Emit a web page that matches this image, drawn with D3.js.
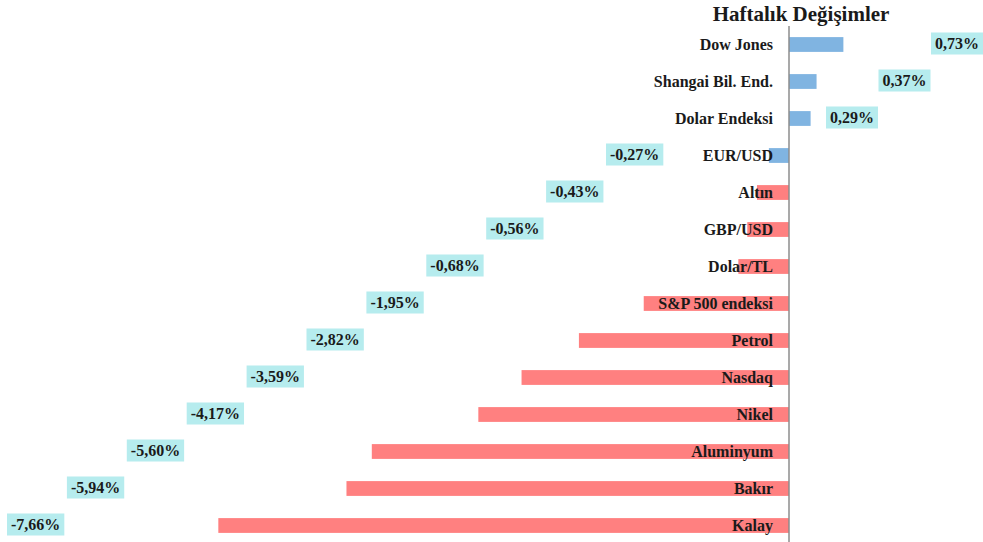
<!DOCTYPE html>
<html>
<head>
<meta charset="utf-8">
<script src="https://cdn.jsdelivr.net/npm/d3@7"></script>
<style>
  body { margin: 0; background: #fff; }
  svg { display: block; font-family: "Liberation Serif", "Times New Roman", serif; }
</style>
</head>
<body>
<div id="chart"></div>
<script>
var categories = ["Dow Jones", "Shangai Bil. End.", "Dolar Endeksi", "EUR/USD", "Altın", "GBP/USD",
  "Dolar/TL", "S&P 500 endeksi", "Petrol", "Nasdaq", "Nikel", "Aluminyum", "Bakır", "Kalay"];
var values = [0.73, 0.37, 0.29, -0.27, -0.43, -0.56, -0.68, -1.95, -2.82, -3.59, -4.17, -5.60, -5.94, -7.66];
var title = "Haftalık Değişimler";

var width = 983, height = 542;

var svg = d3.select("#chart").append("svg")
  .attr("width", width)
  .attr("height", height);

var x = d3.scaleLinear()
  .domain([-8, 1])
  .range([193, 863.5]);

var y = d3.scaleBand()
  .domain(categories)
  .range([26, 544])
  .paddingInner(0.6)
  .paddingOuter(0.3);

// label boxes sit on a staircase, not at the bar ends
var labelNeg = d3.scaleLinear().domain([3, 13]).range([606, 7]);
var labelPos = d3.scaleLinear().domain([2, 0]).range([826, 931]);

var data = categories.map(function(c, i) { return {name: c, value: values[i], i: i}; });

// first four rows are blue in the original (EUR/USD too), rest red
svg.selectAll(".bar")
  .data(data)
  .enter().append("rect")
  .attr("class", "bar")
  .attr("x", function(d) { return x(Math.min(0, d.value)); })
  .attr("y", function(d) { return y(d.name); })
  .attr("width", function(d) { return Math.abs(x(d.value) - x(0)); })
  .attr("height", y.bandwidth())
  .attr("fill", function(d) { return d.i < 4 ? "#80b4e1" : "#ff8080"; });

// vertical axis line
svg.append("line")
  .attr("x1", x(0)).attr("x2", x(0))
  .attr("y1", 26).attr("y2", height)
  .attr("stroke", "#8c8c8c")
  .attr("stroke-width", 1.5);

// category names
svg.selectAll(".cat")
  .data(data)
  .enter().append("text")
  .attr("class", "cat")
  .attr("x", x(0) - 16)
  .attr("y", function(d) { return y(d.name) + y.bandwidth() / 2; })
  .attr("dy", "0.35em")
  .attr("text-anchor", "end")
  .attr("font-size", 16)
  .attr("font-weight", "bold")
  .attr("fill", "#1a1a1a")
  .text(function(d) { return d.name; });

// value labels
var fmt = function(v) { return v.toFixed(2).replace(".", ",") + "%"; };
var lab = svg.selectAll(".lab")
  .data(data)
  .enter().append("g")
  .attr("class", "lab")
  .attr("transform", function(d) {
    var lx = d.value < 0 ? labelNeg(d.i) : labelPos(d.i);
    return "translate(" + lx + "," + (y(d.name) + y.bandwidth() / 2 - 1) + ")";
  });

lab.append("text")
  .attr("x", 4)
  .attr("dy", "0.35em")
  .attr("font-size", 16)
  .attr("font-weight", "bold")
  .attr("fill", "#1a1a1a")
  .text(function(d) { return fmt(d.value); });

lab.each(function() {
  var g = d3.select(this);
  var bb = g.select("text").node().getBBox();
  g.insert("rect", "text")
    .attr("x", 0)
    .attr("y", -11)
    .attr("width", bb.width + 8)
    .attr("height", 22)
    .attr("fill", "#b6ecee");
});

svg.append("text")
  .attr("x", 801)
  .attr("y", 21)
  .attr("text-anchor", "middle")
  .attr("font-size", 21)
  .attr("font-weight", "bold")
  .attr("fill", "#1a1a1a")
  .text(title);
</script>
</body>
</html>
